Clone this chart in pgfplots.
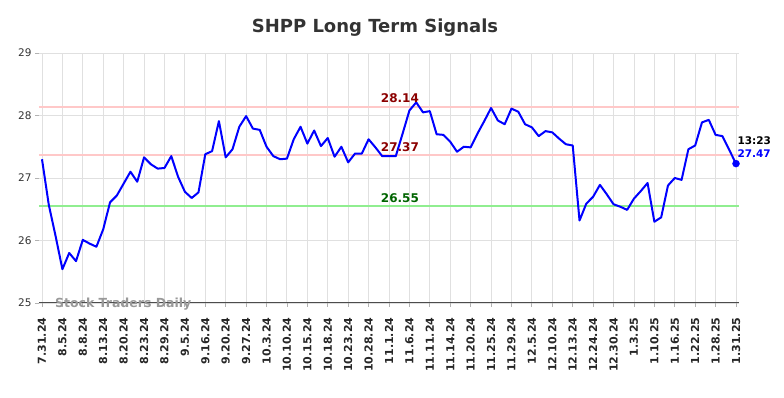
\documentclass[border=0pt]{standalone}
\usepackage{fontspec}
\setmainfont{DejaVu Sans}
\usepackage{pgfplots}
\pgfplotsset{compat=1.18}
\definecolor{sigred}{HTML}{8B0000}
\definecolor{siggreen}{HTML}{006400}
\definecolor{pinkline}{HTML}{FFC8C8}
\definecolor{greenline}{HTML}{90EE90}
\begin{document}
\begin{tikzpicture}[x=1pt,y=1pt]
\useasboundingbox (0,0) rectangle (784,398);
\node[font=\bfseries\fontsize{18}{18}\selectfont, text=black!80] at (375,370) {SHPP Long Term Signals};
\begin{axis}[
  at={(39pt,95pt)}, anchor=south west, scale only axis,
  width=700pt, height=250pt,
  xmin=-0.44, xmax=102.44, ymin=25, ymax=29,
  ytick={25,26,27,28,29},
  xtick={0,3,...,102},
  xticklabels={7.31.24,8.5.24,8.8.24,8.13.24,8.20.24,8.23.24,8.29.24,9.5.24,9.16.24,9.20.24,9.27.24,10.3.24,10.10.24,10.15.24,10.18.24,10.23.24,10.28.24,11.1.24,11.6.24,11.11.24,11.14.24,11.20.24,11.25.24,11.29.24,12.5.24,12.10.24,12.13.24,12.24.24,12.30.24,1.3.25,1.10.25,1.16.25,1.22.25,1.28.25,1.31.25},
  xticklabel shift=7pt,
  xticklabel style={rotate=90, anchor=east, font=\bfseries\fontsize{11}{11}\selectfont, text=black!85},
  yticklabel style={font=\fontsize{10.5}{10.5}\selectfont, text=black!80},
  grid=major, grid style={black!12, line width=0.9pt},
  axis x line*=bottom, axis y line*=left,
  y axis line style={draw=none},
  x axis line style={-, draw=black!70, line width=1pt},
  tick align=outside, major tick length=4pt,
  tick style={black!30, line width=0.8pt},
  /pgf/number format/assume math mode=true,
  clip=false,
]
\addplot[pinkline, line width=1.6pt, forget plot] coordinates {(-0.44,28.14) (102.44,28.14)};
\addplot[pinkline, line width=1.6pt, forget plot] coordinates {(-0.44,27.37) (102.44,27.37)};
\addplot[greenline, line width=1.6pt, forget plot] coordinates {(-0.44,26.55) (102.44,26.55)};
\node[font=\bfseries\fontsize{12.5}{12.5}\selectfont, text=black!40, anchor=west] at (axis cs:1.4,24.99) {Stock Traders Daily};
\addplot[blue, line width=2pt, line join=round, mark=none] table {
x y
0 27.30
1 26.57
2 26.07
3 25.54
4 25.80
5 25.67
6 26.01
7 25.95
8 25.90
9 26.18
10 26.61
11 26.72
12 26.91
13 27.10
14 26.94
15 27.33
16 27.22
17 27.15
18 27.16
19 27.35
20 27.02
21 26.78
22 26.68
23 26.77
24 27.38
25 27.43
26 27.91
27 27.33
28 27.46
29 27.82
30 27.99
31 27.79
32 27.77
33 27.50
34 27.35
35 27.30
36 27.31
37 27.62
38 27.82
39 27.55
40 27.76
41 27.51
42 27.64
43 27.34
44 27.50
45 27.25
46 27.39
47 27.39
48 27.62
49 27.49
50 27.35
51 27.35
52 27.35
53 27.71
54 28.08
55 28.21
56 28.05
57 28.07
58 27.70
59 27.69
60 27.58
61 27.42
62 27.50
63 27.49
64 27.71
65 27.91
66 28.12
67 27.92
68 27.86
69 28.11
70 28.06
71 27.86
72 27.81
73 27.67
74 27.75
75 27.73
76 27.63
77 27.54
78 27.52
79 26.32
80 26.59
81 26.70
82 26.89
83 26.74
84 26.58
85 26.54
86 26.49
87 26.67
88 26.79
89 26.92
90 26.30
91 26.37
92 26.88
93 27.00
94 26.97
95 27.46
96 27.52
97 27.89
98 27.93
99 27.69
100 27.67
101 27.45
102 27.23
};
\addplot[blue, only marks, mark=*, mark size=3.5pt] coordinates {(102,27.23)};
\node[font=\bfseries\fontsize{12}{12}\selectfont, text=sigred] at (axis cs:52.6,28.27) {28.14};
\node[font=\bfseries\fontsize{12}{12}\selectfont, text=sigred] at (axis cs:52.6,27.50) {27.37};
\node[font=\bfseries\fontsize{12}{12}\selectfont, text=siggreen] at (axis cs:52.6,26.67) {26.55};
\node[font=\bfseries\fontsize{10.5}{10.5}\selectfont, text=black, anchor=west, inner sep=0pt] at (axis cs:102.2,27.59) {13:23};
\node[font=\bfseries\fontsize{10.5}{10.5}\selectfont, text=blue, anchor=west, inner sep=0pt] at (axis cs:102.2,27.385) {27.47};
\end{axis}
\end{tikzpicture}
\end{document}
